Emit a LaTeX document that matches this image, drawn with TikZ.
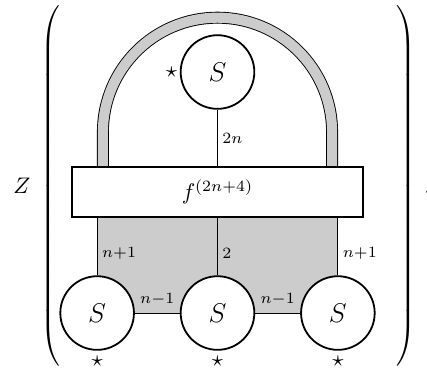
\documentclass[tikz,border=0pt]{standalone}
\usepackage{amsmath,amssymb}
\usepackage{graphicx}
\usepackage{xcolor}
\usepackage{tikz}
\usetikzlibrary{positioning,calc}
\definecolor{xshade}{HTML}{CCCCCC}

\begin{document}
\begin{tikzpicture}[
    sbox/.style={circle, draw, line width=0.8pt, fill=white, minimum size=1.15cm, inner sep=0pt, font=\large},
    fbox/.style={rectangle, draw, line width=0.8pt, fill=white, minimum width=4.55cm, minimum height=0.78cm, inner sep=0pt},
    wire/.style={line width=0.4pt},
    band/.style={draw=black, line width=0.4pt, double=xshade, double distance=4.5pt},
    lbl/.style={font=\scriptsize, inner sep=2pt},
    starlbl/.style={inner sep=0pt},
    delim/.style={inner sep=0pt},
]
\useasboundingbox (-3.397,-2.811) rectangle (3.272,2.999);

% Shading and band
\fill[xshade] (-1.88,-0.39) rectangle (1.88,-1.89);
\draw[band] (-1.79,0.3) -- (-1.79,0.933) arc[start angle=180, end angle=0, radius=1.79] -- (1.79,0.3);

% Box and circles
\node[fbox] (f) at (0,0) {$f^{(2n+4)}$};
\node[sbox] (st) at (0,1.874) {$S$};
\node[starlbl, left=1pt of st] (stt) {$\star$};
\foreach \i/\x in {1/-1.88, 2/0, 3/1.88} {
    \node[sbox] (s\i) at (\x,-1.89) {$S$};
    \node[starlbl, below=2pt of s\i] (star\i) {$\star$};
}

% Wires
\draw[wire] (st) -- (f) node[lbl, midway, right] (l2n) {$2n$};
\draw[wire] (f.south -| s1) -- (s1) node[lbl, right, pos=0.62] (la) {$n{+}1$};
\draw[wire] (f.south -| s2) -- (s2) node[lbl, right, pos=0.62] (lb) {$2$};
\draw[wire] (f.south -| s3) -- (s3) node[lbl, right, pos=0.62] (lc) {$n{+}1$};
\draw[wire] (s1) -- (s2) node[lbl, midway, above=1pt] (ld) {$n{-}1$};
\draw[wire] (s2) -- (s3) node[lbl, midway, above=1pt] (le) {$n{-}1$};

% Z and parentheses
\node[anchor=base] (z) at (-3.054,-0.016) {$Z$};
\node[delim, anchor=west] (lpar) at (-2.77,0.094) {\scalebox{1}[1.028]{$\left(\vcenter{\hbox{\rule{0pt}{161pt}}}\right.$}};
\node[delim, anchor=east] (rpar) at (3.116,0.094) {\scalebox{1}[1.028]{$\left.\vcenter{\hbox{\rule{0pt}{161pt}}}\right)$}};
\node[anchor=base west, inner sep=0pt] (dot) at (3.225,-0.016) {.};

\end{tikzpicture}
\end{document}
